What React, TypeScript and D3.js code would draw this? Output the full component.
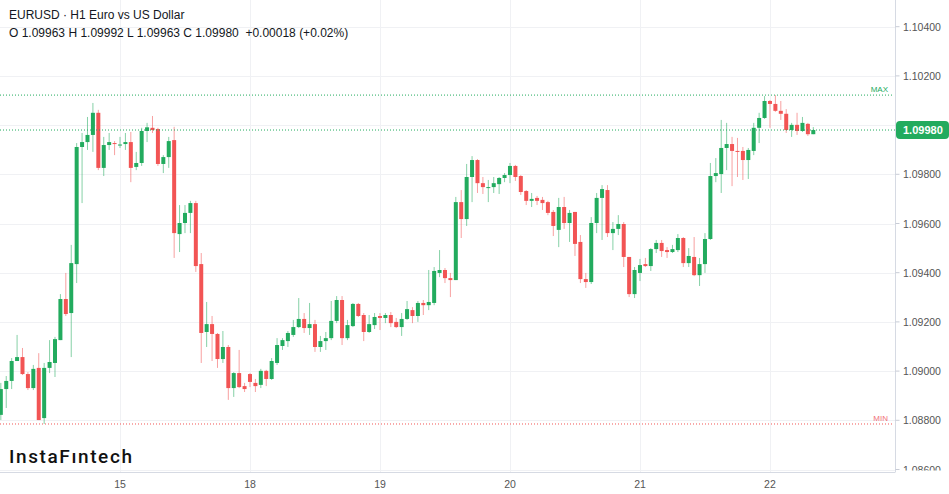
import * as d3 from "d3";

// EURUSD H1 candles (14 Dec 02:00 .. 22 Dec 08:00)
const opens = [
  1.08822, 1.08927, 1.0896, 1.09041, 1.09057, 1.08988, 1.08931, 1.09013, 1.08809, 1.09013,
  1.09033, 1.09126, 1.09293, 1.09236, 1.09435, 1.09911, 1.09931, 1.0996, 1.1005, 1.09826,
  1.09919, 1.09927, 1.0992, 1.09923, 1.09931, 1.0983, 1.09846, 1.09976, 1.09989, 1.09984,
  1.09842, 1.0987, 1.09939, 1.09557, 1.09602, 1.09643, 1.09683, 1.09435, 1.09159, 1.09191,
  1.09151, 1.09049, 1.09098, 1.08931, 1.08992, 1.08939, 1.08988, 1.08952, 1.08944, 1.09001,
  1.08968, 1.09033, 1.09102, 1.09122, 1.09147, 1.09179, 1.09212, 1.09175, 1.09191, 1.09098,
  1.09122, 1.09134, 1.09204, 1.09289, 1.09134, 1.09183, 1.09273, 1.09228, 1.09159, 1.09187,
  1.09224, 1.09216, 1.09228, 1.092, 1.09179, 1.09212, 1.09248, 1.09224, 1.09277, 1.09268,
  1.09277, 1.09399, 1.09411, 1.09378, 1.0937, 1.09687, 1.09618, 1.09789, 1.09858, 1.09764,
  1.09747, 1.09748, 1.0976, 1.09785, 1.09797, 1.09834, 1.09793, 1.09732, 1.09692, 1.09704,
  1.09696, 1.09687, 1.09647, 1.09574, 1.09667, 1.09602, 1.09647, 1.09525, 1.09374, 1.09362,
  1.09602, 1.09704, 1.09736, 1.09561, 1.09578, 1.09598, 1.09464, 1.09313, 1.09399, 1.09435,
  1.09427, 1.09496, 1.09521, 1.09492, 1.09484, 1.09492, 1.09541, 1.09439, 1.09464, 1.0939,
  1.09435, 1.09537, 1.09793, 1.09801, 1.09907, 1.09923, 1.09895, 1.09895, 1.09858, 1.09895,
  1.09989, 1.10029, 1.10098, 1.10086, 1.10058, 1.10046, 1.0998, 1.10001, 1.09976, 1.10005,
  1.09963,
];
const highs = [
  1.08952, 1.0898, 1.09053, 1.09147, 1.09094, 1.08996, 1.09025, 1.09073, 1.09033, 1.09126,
  1.09139, 1.09313, 1.09399, 1.09513, 1.09927, 1.09968, 1.10033, 1.1009, 1.10062, 1.09952,
  1.09968, 1.09935, 1.09952, 1.09968, 1.09972, 1.09891, 1.09989, 1.10009, 1.10037, 1.09989,
  1.09878, 1.09952, 1.09993, 1.09675, 1.09675, 1.09692, 1.09692, 1.0948, 1.09281, 1.09224,
  1.09155, 1.09163, 1.09106, 1.08996, 1.09086, 1.08952, 1.08992, 1.08968, 1.09009, 1.09005,
  1.09053, 1.09134, 1.09134, 1.09163, 1.09208, 1.09297, 1.09236, 1.09277, 1.09208, 1.09143,
  1.09159, 1.09285, 1.09305, 1.09305, 1.09208, 1.09277, 1.09277, 1.09236, 1.09228, 1.09236,
  1.09236, 1.09236, 1.0924, 1.09216, 1.09236, 1.09285, 1.0926, 1.09285, 1.09289, 1.09411,
  1.09423, 1.09492, 1.09419, 1.09399, 1.09708, 1.09736, 1.09842, 1.09874, 1.09862, 1.09789,
  1.09777, 1.09789, 1.09789, 1.09805, 1.09846, 1.09838, 1.09797, 1.09736, 1.09724, 1.09712,
  1.09708, 1.09692, 1.09655, 1.09704, 1.09708, 1.09655, 1.09647, 1.09553, 1.09399, 1.09626,
  1.09724, 1.09756, 1.09756, 1.09606, 1.09634, 1.09606, 1.09464, 1.09423, 1.09456, 1.0946,
  1.095, 1.09533, 1.09533, 1.09504, 1.09513, 1.09557, 1.09545, 1.095, 1.09545, 1.0946,
  1.09561, 1.09846, 1.09866, 1.10021, 1.10009, 1.09952, 1.09948, 1.09911, 1.09907, 1.10009,
  1.1005, 1.10118, 1.10102, 1.10122, 1.10098, 1.10065, 1.10009, 1.1005, 1.10033, 1.10009,
  1.09992,
];
const lows = [
  1.08801, 1.0885, 1.08927, 1.09041, 1.08984, 1.08923, 1.08923, 1.08801, 1.08785, 1.08992,
  1.08976, 1.09126, 1.09224, 1.09057, 1.09358, 1.09683, 1.09899, 1.09891, 1.09817, 1.09793,
  1.09899, 1.09878, 1.09907, 1.09899, 1.09768, 1.09817, 1.09834, 1.09931, 1.09968, 1.09834,
  1.09805, 1.09826, 1.0946, 1.09484, 1.09561, 1.09561, 1.09403, 1.09033, 1.09098, 1.09041,
  1.09013, 1.09033, 1.08883, 1.08895, 1.08931, 1.08915, 1.08935, 1.08915, 1.08931, 1.08939,
  1.08964, 1.09025, 1.09086, 1.09098, 1.09139, 1.09175, 1.09155, 1.09147, 1.09078, 1.09078,
  1.09086, 1.09126, 1.09195, 1.09106, 1.09126, 1.09179, 1.0922, 1.09122, 1.09155, 1.09171,
  1.09167, 1.09195, 1.09179, 1.09175, 1.09143, 1.09208, 1.09195, 1.092, 1.09228, 1.09248,
  1.09268, 1.09382, 1.09358, 1.09301, 1.0937, 1.09541, 1.0959, 1.09687, 1.09724, 1.0972,
  1.09687, 1.09724, 1.0972, 1.09768, 1.09764, 1.09773, 1.09716, 1.09675, 1.09667, 1.09675,
  1.09655, 1.09634, 1.09549, 1.09504, 1.09578, 1.09525, 1.09468, 1.09358, 1.09338, 1.09354,
  1.09561, 1.09533, 1.09545, 1.09492, 1.09553, 1.09423, 1.09301, 1.09297, 1.09366, 1.09423,
  1.09407, 1.0948, 1.09464, 1.0946, 1.0948, 1.09484, 1.09423, 1.09423, 1.09386, 1.09346,
  1.09399, 1.09533, 1.09768, 1.09724, 1.09817, 1.09752, 1.09789, 1.09777, 1.09781, 1.09878,
  1.09927, 1.10025, 1.09989, 1.10054, 1.10021, 1.09968, 1.09952, 1.0996, 1.09972, 1.09956,
  1.09963,
];
const closes = [
  1.08927, 1.0896, 1.09041, 1.09057, 1.08988, 1.08931, 1.09009, 1.08801, 1.09013, 1.09037,
  1.0913, 1.09293, 1.09232, 1.09439, 1.09911, 1.09931, 1.0996, 1.1005, 1.09826, 1.09919,
  1.09931, 1.09923, 1.09921, 1.09931, 1.09826, 1.09846, 1.09976, 1.09991, 1.0998, 1.09842,
  1.0987, 1.09935, 1.09561, 1.09602, 1.09643, 1.09683, 1.09427, 1.09155, 1.09191, 1.09151,
  1.09049, 1.09098, 1.08931, 1.08992, 1.08935, 1.08927, 1.08956, 1.08939, 1.09001, 1.08968,
  1.09041, 1.09106, 1.09126, 1.09155, 1.09179, 1.09212, 1.09175, 1.09191, 1.09098, 1.09122,
  1.09134, 1.09204, 1.09289, 1.09134, 1.09187, 1.09273, 1.09224, 1.09159, 1.09191, 1.0922,
  1.09216, 1.09228, 1.09195, 1.09179, 1.09212, 1.09252, 1.09224, 1.09277, 1.09268, 1.09281,
  1.09407, 1.09411, 1.09378, 1.0937, 1.09687, 1.09618, 1.09789, 1.09858, 1.09764, 1.09748,
  1.09748, 1.09764, 1.09785, 1.09797, 1.09834, 1.09789, 1.09728, 1.09692, 1.097, 1.09692,
  1.09683, 1.09643, 1.0959, 1.09667, 1.09602, 1.09643, 1.09517, 1.09374, 1.09362, 1.09602,
  1.09704, 1.0974, 1.09561, 1.09578, 1.09598, 1.09464, 1.09313, 1.09411, 1.09431, 1.09427,
  1.09496, 1.09521, 1.09488, 1.09484, 1.09496, 1.09541, 1.09439, 1.09468, 1.0939, 1.09435,
  1.09537, 1.09793, 1.09805, 1.09907, 1.09923, 1.09895, 1.09891, 1.09858, 1.09899, 1.09989,
  1.10029, 1.10098, 1.10086, 1.10058, 1.10046, 1.0998, 1.10001, 1.09976, 1.10009, 1.09963,
  1.0998,
];

// day labels on the time axis and the candle index of each day's 00:00 bar
const dayLabels = ["15", "18", "19", "20", "21", "22"];
const dayIndex = [22, 46, 70, 94, 118, 142];

const priceTicks = [1.086, 1.088, 1.09, 1.092, 1.094, 1.096, 1.098, 1.1, 1.102, 1.104];

const WIDTH = 949;
const HEIGHT = 494;
const PANE_RIGHT = 895.5;
const PANE_BOTTOM = 472;

const GREEN = "#22ab5e";
const RED = "#f25454";

export default function App() {
  const candles = opens.map((o, i) => ({ i, o, h: highs[i], l: lows[i], c: closes[i] }));

  const x = d3.scaleLinear().domain([0, 150]).range([0.83, 813.3]);
  const y = d3.scaleLinear().domain([1.086, 1.104]).range([469.5, 26.7]);

  const maxHigh = d3.max(highs) as number;
  const minLow = d3.min(lows) as number;
  const last = closes[closes.length - 1];

  const fmt = d3.format(".5f");
  // the last-price badge hides any axis label it would cover
  const axisLabels = priceTicks.filter((t) => Math.abs(y(t) - y(last)) > 14);

  return (
    <svg
      width={WIDTH}
      height={HEIGHT}
      style={{ position: "absolute", left: 0, top: 0, background: "#fff" }}
      fontFamily="'Liberation Sans', Arial, sans-serif"
    >
      <defs>
        <clipPath id="pane">
          <rect x={0} y={0} width={PANE_RIGHT} height={PANE_BOTTOM} />
        </clipPath>
        <clipPath id="axisClip">
          <rect x={PANE_RIGHT} y={0} width={WIDTH - PANE_RIGHT} height={PANE_BOTTOM - 1.5} />
        </clipPath>
      </defs>

      {/* grid */}
      <g stroke="#f0f1f4" strokeWidth={1}>
        {priceTicks.map((t) => (
          <line key={t} x1={0} x2={PANE_RIGHT} y1={Math.round(y(t)) + 0.5} y2={Math.round(y(t)) + 0.5} />
        ))}
        {dayIndex.map((d) => (
          <line key={d} x1={Math.round(x(d)) + 0.5} x2={Math.round(x(d)) + 0.5} y1={0} y2={PANE_BOTTOM} />
        ))}
      </g>

      {/* candles */}
      <g clipPath="url(#pane)">
        {candles.map((d) => {
          const up = d.c >= d.o;
          const col = up ? GREEN : RED;
          const cx = x(d.i);
          const top = y(Math.max(d.o, d.c));
          const bot = y(Math.min(d.o, d.c));
          return (
            <g key={d.i}>
              <line
                x1={cx}
                x2={cx}
                y1={y(d.h)}
                y2={y(d.l)}
                stroke={col}
                strokeOpacity={0.55}
                strokeWidth={1}
              />
              <rect x={cx - 2} y={top} width={4} height={Math.max(1, bot - top)} fill={col} />
            </g>
          );
        })}
      </g>

      {/* max / min / last price lines */}
      <line x1={0} x2={PANE_RIGHT - 2} y1={y(maxHigh)} y2={y(maxHigh)} stroke={GREEN} strokeDasharray="1 2" />
      <text x={888} y={y(maxHigh) - 3} fontSize={8} fill={GREEN} textAnchor="end">MAX</text>
      <line x1={0} x2={PANE_RIGHT - 2} y1={y(minLow)} y2={y(minLow)} stroke={RED} strokeDasharray="1 2" />
      <text x={888} y={y(minLow) - 3} fontSize={8} fill="#f07078" textAnchor="end">MIN</text>
      <line x1={0} x2={PANE_RIGHT} y1={y(last)} y2={y(last)} stroke={GREEN} strokeDasharray="1 2" />

      {/* price axis */}
      <line x1={PANE_RIGHT} x2={PANE_RIGHT} y1={0} y2={PANE_BOTTOM} stroke="#d6dae3" />
      {priceTicks.map((t) => (
        <line key={t} x1={PANE_RIGHT} x2={PANE_RIGHT + 4} y1={y(t)} y2={y(t)} stroke="#c8ccd6" />
      ))}
      <g clipPath="url(#axisClip)">
        {axisLabels.map((t) => (
          <text key={t} x={903} y={y(t) + 4} fontSize={10.5} fill="#555">
            {fmt(t)}
          </text>
        ))}
      </g>
      <rect x={896} y={y(last) - 9} width={53} height={18} rx={4} fill={GREEN} />
      <text x={903} y={y(last) + 4} fontSize={11} fontWeight={700} fill="#fff">
        {fmt(last)}
      </text>

      {/* time axis */}
      <line x1={0} x2={PANE_RIGHT} y1={PANE_BOTTOM + 0.5} y2={PANE_BOTTOM + 0.5} stroke="#d6dae3" />
      {dayLabels.map((lab, k) => (
        <text key={lab} x={x(dayIndex[k])} y={487.5} fontSize={10.5} fill="#555" textAnchor="middle">
          {lab}
        </text>
      ))}

      {/* header */}
      <text x={9} y={19} fontSize={12} fill="#131722">EURUSD · H1 Euro vs US Dollar</text>
      <text x={9} y={37} fontSize={12} fill="#131722" xmlSpace="preserve">
        {`O ${fmt(opens[150])} H ${fmt(highs[150])} L ${fmt(lows[150])} C ${fmt(last)}  +0.00018 (+0.02%)`}
      </text>

      {/* logo */}
      <text x={9} y={463} fontSize={19} fontWeight={500} fontFamily="Roboto, sans-serif" fill="#111" textLength={123}>
        InstaFıntech
      </text>
    </svg>
  );
}
